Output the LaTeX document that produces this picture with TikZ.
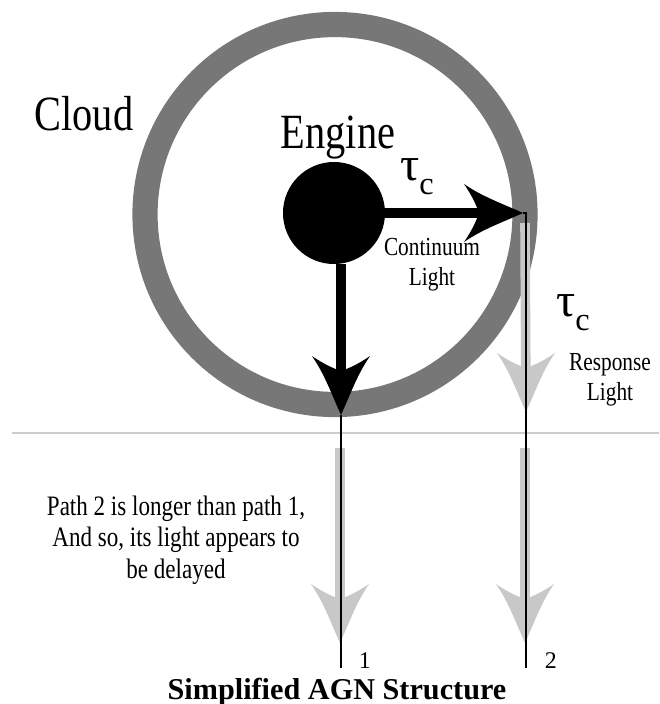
\documentclass[tikz,border=0pt]{standalone}
\usepackage{fontspec}
\setmainfont{Liberation Serif}
\newfontfamily\narrowfont{Liberation Serif}[FakeStretch=0.82]
\usetikzlibrary{positioning}
\definecolor{ringgrey}{HTML}{777777}
\definecolor{lightgrey}{HTML}{C8C8C8}
\definecolor{rulegrey}{HTML}{CCCCCC}
\newcommand{\taucee}{τ\raisebox{-10pt}{\fontsize{23}{23}\selectfont c}}
\tikzset{
  head/.pic={\fill (0,0) .. controls (-22,-10) and (-40,-16) .. (-59,-29)
      .. controls (-50,-16) and (-46,-6) .. (-44,0)
      .. controls (-46,6) and (-50,16) .. (-59,29)
      .. controls (-40,16) and (-22,10) .. (0,0) -- cycle;},
  ring/.style={ringgrey, line width=0.63cm},
  shaft/.style={line width=0.27cm, shorten >=1cm},
  greyshaft/.style={lightgrey, line width=0.24cm, shorten >=1cm},
  thinline/.style={line width=0.06cm},
  rule/.style={rulegrey, line width=0.05cm},
  bigtext/.style={font=\narrowfont\fontsize{35}{40}\selectfont},
  smalltext/.style={font=\narrowfont\fontsize{18.5}{21.3}\selectfont, align=center},
  notetext/.style={font=\narrowfont\fontsize{20}{22.5}\selectfont, align=center},
  numtext/.style={font=\fontsize{17}{19}\selectfont},
  titletext/.style={font=\bfseries\fontsize{21.5}{24}\selectfont},
  taulabel/.style={font=\fontsize{34}{36}\selectfont},
}
\begin{document}
\begin{tikzpicture}[x=0.025cm, y=-0.025cm]
	\useasboundingbox (0,0) rectangle (659,704);
	\coordinate (tipR) at (523,213);
	\coordinate (tip1) at (341,415);
	\coordinate (end1) at (341,668);
	\coordinate (end2) at (526,668);
	\coordinate (g2top) at (525,223);
	\coordinate (g2tip) at (526,412);
	\coordinate (g1low) at (340,448);
	\coordinate (g1ltip) at (340,643);
	\coordinate (g2low) at (525,448);
	\coordinate (g2ltip) at (525,643);
	\coordinate (ruleL) at (12,433);
	\coordinate (ruleR) at (659,433);
	% cloud and engine
	\draw[ring] (335,214.5) circle[radius=190];
	\node[circle, fill, inner sep=0, minimum size=2.55cm] (engine) at (334,213) {};
	\node[bigtext, anchor=base] (cloud) at (84,130) {Cloud};
	\node[bigtext, anchor=base] (enginetext) at (338,148) {Engine};
	\draw[rule] (ruleL) -- (ruleR);
	% response light (grey)
	\draw[greyshaft] (g2top) -- (g2tip);
	\pic[color=lightgrey, rotate=-90] at (g2tip) {head};
	\draw[greyshaft] (g1low) -- (g1ltip);
	\pic[color=lightgrey, rotate=-90] at (g1ltip) {head};
	\draw[greyshaft] (g2low) -- (g2ltip);
	\pic[color=lightgrey, rotate=-90] at (g2ltip) {head};
	% continuum light
	\draw[shaft] (engine) -- (tipR);
	\pic at (tipR) {head};
	\draw[shaft] (engine.south -| tip1) -- (tip1);
	\pic[rotate=-90] at (tip1) {head};
	\draw[thinline] (tip1) -- (end1);
	\draw[thinline] (tipR) -| (end2);
	% labels
	\node[taulabel] (tau1) at (417,177) {\taucee};
	\node[taulabel] (tau2) at (573,313) {\taucee};
	\node[smalltext] (contlabel) at (432,265) {Continuum\\Light};
	\node[smalltext] (resplabel) at (610,380) {Response\\Light};
	\node[notetext] (note) at (176,540) {Path 2 is longer than path 1,\\And so, its light appears to\\be delayed};
	\node[numtext, anchor=base west] (path1) at (354,668) {1};
	\node[numtext, anchor=base west] (path2) at (540,668) {2};
	\node[titletext, anchor=base] (title) at (337,699) {Simplified AGN Structure};
\end{tikzpicture}
\end{document}
